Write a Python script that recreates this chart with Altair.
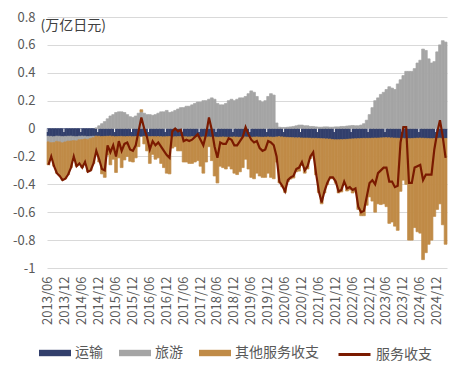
import altair as alt
import pandas as pd

# ---- categories ----
months = []
_y, _m = 2013, 6
for _ in range(142):
    months.append(f"{_y}/{_m:02d}")
    _m += 1
    if _m > 12:
        _m = 1
        _y += 1

label_months = ["2013/06", "2013/12", "2014/06", "2014/12", "2015/06", "2015/12",
                "2016/06", "2016/12", "2017/06", "2017/12", "2018/06", "2018/12",
                "2019/06", "2019/12", "2020/06", "2020/12", "2021/06", "2021/12",
                "2022/06", "2022/12", "2023/06", "2023/12", "2024/06", "2024/12"]

series_names = ["运输", "旅游", "其他服务收支"]
series_colors = ["#323F6C", "#A5A5A5", "#C08B47"]
line_name = "服务收支"

# ---- series values (万亿日元) ----
transport = [-0.055,-0.056,-0.058,-0.054,-0.055,-0.057,-0.056,-0.055,-0.054,-0.056,-0.058,-0.055,
             -0.054,-0.055,-0.057,-0.056,-0.055,-0.054,-0.055,-0.057,-0.056,-0.055,-0.054,-0.056,
             -0.058,-0.057,-0.056,-0.058,-0.057,-0.056,-0.058,-0.057,-0.056,-0.055,-0.056,-0.057,
             -0.058,-0.057,-0.058,-0.057,-0.058,-0.059,-0.058,-0.057,-0.058,-0.059,-0.058,-0.057,
             -0.058,-0.059,-0.060,-0.058,-0.059,-0.060,-0.061,-0.060,-0.059,-0.060,-0.061,-0.060,
             -0.062,-0.061,-0.060,-0.061,-0.062,-0.061,-0.060,-0.061,-0.062,-0.061,-0.060,-0.061,
             -0.062,-0.061,-0.060,-0.061,-0.062,-0.061,-0.060,-0.061,-0.062,-0.060,-0.058,-0.060,
             -0.062,-0.063,-0.064,-0.065,-0.066,-0.066,-0.067,-0.068,-0.068,-0.069,-0.070,-0.070,
             -0.071,-0.072,-0.073,-0.074,-0.075,-0.078,-0.080,-0.080,-0.079,-0.078,-0.077,-0.075,
             -0.074,-0.073,-0.072,-0.071,-0.070,-0.070,-0.070,-0.069,-0.068,-0.068,-0.067,-0.066,
             -0.065,-0.066,-0.067,-0.068,-0.069,-0.070,-0.070,-0.071,-0.072,-0.071,-0.070,-0.069,
             -0.068,-0.069,-0.070,-0.071,-0.072,-0.071,-0.070,-0.069,-0.070,-0.071]

travel = [-0.040,-0.045,-0.042,-0.038,-0.040,-0.045,-0.040,-0.035,-0.035,-0.030,-0.030,-0.025,
          -0.025,-0.020,-0.020,-0.015,-0.010,0.005,0.020,0.035,0.050,0.070,0.090,0.100,
          0.115,0.120,0.120,0.115,0.100,0.085,0.080,0.090,0.110,0.120,0.110,0.100,
          0.100,0.095,0.100,0.110,0.120,0.120,0.130,0.115,0.120,0.130,0.140,0.150,
          0.150,0.160,0.160,0.170,0.180,0.190,0.190,0.200,0.200,0.210,0.220,0.210,
          0.180,0.170,0.170,0.180,0.200,0.210,0.200,0.210,0.220,0.220,0.230,0.250,
          0.270,0.260,0.230,0.200,0.190,0.200,0.230,0.250,0.240,0.040,0.010,0.008,
          0.008,0.010,0.012,0.015,0.020,0.025,0.025,0.020,0.020,0.015,0.015,0.012,
          0.010,0.010,0.012,0.012,0.010,0.010,0.012,0.012,0.015,0.015,0.018,0.020,
          0.022,0.020,0.020,0.025,0.035,0.060,0.100,0.150,0.200,0.220,0.245,0.260,
          0.280,0.300,0.290,0.280,0.320,0.350,0.380,0.410,0.410,0.410,0.430,0.470,
          0.490,0.570,0.560,0.500,0.470,0.480,0.550,0.600,0.630,0.620]

other = [-0.165,-0.099,-0.170,-0.228,-0.245,-0.268,-0.264,-0.240,-0.191,-0.114,-0.182,-0.170,
         -0.201,-0.165,-0.233,-0.229,-0.185,-0.111,-0.185,-0.268,-0.294,-0.135,-0.206,-0.164,
         -0.257,-0.153,-0.224,-0.167,-0.143,-0.179,-0.182,-0.153,-0.074,0.015,-0.054,-0.103,
         -0.192,-0.128,-0.162,-0.153,-0.192,-0.221,-0.262,-0.268,-0.082,-0.071,-0.102,-0.103,
         -0.182,-0.181,-0.190,-0.192,-0.181,-0.170,-0.209,-0.260,-0.181,-0.070,-0.169,-0.280,
         -0.328,-0.209,-0.220,-0.229,-0.208,-0.229,-0.260,-0.269,-0.248,-0.219,-0.160,-0.229,
         -0.288,-0.299,-0.260,-0.279,-0.288,-0.289,-0.260,-0.289,-0.298,-0.180,-0.332,-0.358,
         -0.396,-0.317,-0.298,-0.290,-0.244,-0.239,-0.198,-0.252,-0.222,-0.146,-0.115,-0.262,
         -0.389,-0.468,-0.389,-0.328,-0.285,-0.282,-0.312,-0.382,-0.376,-0.317,-0.371,-0.365,
         -0.388,-0.377,-0.508,-0.554,-0.555,-0.480,-0.420,-0.451,-0.532,-0.472,-0.478,-0.474,
         -0.495,-0.614,-0.603,-0.632,-0.661,-0.380,-0.300,-0.329,-0.728,-0.729,-0.640,-0.671,
         -0.682,-0.871,-0.820,-0.759,-0.728,-0.559,-0.510,-0.471,-0.620,-0.759]

services = [-0.26,-0.20,-0.27,-0.32,-0.34,-0.37,-0.36,-0.33,-0.28,-0.20,-0.27,-0.25,
            -0.28,-0.24,-0.31,-0.30,-0.25,-0.16,-0.22,-0.29,-0.30,-0.12,-0.17,-0.12,
            -0.20,-0.09,-0.16,-0.11,-0.10,-0.15,-0.16,-0.12,-0.02,0.08,0.00,-0.06,
            -0.15,-0.09,-0.12,-0.10,-0.13,-0.16,-0.19,-0.21,-0.02,0.00,-0.02,-0.01,
            -0.09,-0.08,-0.09,-0.08,-0.06,-0.04,-0.08,-0.12,-0.04,0.08,-0.01,-0.13,
            -0.21,-0.10,-0.11,-0.11,-0.07,-0.08,-0.12,-0.12,-0.09,-0.06,0.01,-0.04,
            -0.08,-0.10,-0.09,-0.14,-0.16,-0.15,-0.09,-0.10,-0.12,-0.20,-0.38,-0.41,
            -0.45,-0.37,-0.35,-0.34,-0.29,-0.28,-0.24,-0.30,-0.27,-0.20,-0.17,-0.32,
            -0.45,-0.53,-0.45,-0.39,-0.35,-0.35,-0.38,-0.45,-0.44,-0.38,-0.43,-0.42,
            -0.44,-0.43,-0.56,-0.60,-0.59,-0.49,-0.39,-0.37,-0.40,-0.32,-0.30,-0.28,
            -0.28,-0.38,-0.38,-0.42,-0.41,-0.10,0.01,0.01,-0.39,-0.39,-0.28,-0.27,
            -0.26,-0.37,-0.33,-0.33,-0.33,-0.15,-0.03,0.06,-0.06,-0.21]

y_ticks = [-1.0, -0.8, -0.6, -0.4, -0.2, 0.0, 0.2, 0.4, 0.6, 0.8]

# ---- tables ----
rows = []
for i, mth in enumerate(months):
    rows.append({"month": mth, "series": "运输", "value": transport[i], "ord": 0})
    rows.append({"month": mth, "series": "旅游", "value": travel[i], "ord": 1})
    rows.append({"month": mth, "series": "其他服务收支", "value": other[i], "ord": 2})
bars_df = pd.DataFrame(rows)
line_df = pd.DataFrame({"month": months, "series": line_name, "value": services})
ticks_df = pd.DataFrame({"month": label_months})

FONT = "Noto Sans CJK SC"
TXT = "#595959"

x_axis = alt.Axis(values=label_months, labelAngle=270, labelAlign="right",
                  labelBaseline="middle", labelPadding=8, ticks=False, domain=False,
                  grid=False, title=None, labelFontSize=13, labelColor=TXT,
                  labelFont=FONT, labelOverlap=False)
x_scale = alt.Scale(domain=months, paddingInner=0, paddingOuter=0)

y_axis = alt.Axis(values=y_ticks,
                  labelExpr="datum.value == 0 ? '0' : '' + round(datum.value * 10) / 10",
                  grid=True, gridColor="#D9D9D9", gridWidth=1, domain=False, ticks=False,
                  labelPadding=12, labelFontSize=13, labelColor=TXT, labelFont=FONT,
                  labelOverlap=False, labelSeparation=0,
                  title="(万亿日元)", titleAngle=0, titleAlign="left",
                  titleBaseline="middle", titleX=-7, titleY=8, titleFontSize=14,
                  titleFontWeight="normal", titleColor="#404040", titleFont=FONT)
y_scale = alt.Scale(domain=[-1, 0.8], nice=False)

bars = alt.Chart(bars_df).mark_bar(strokeWidth=0.7).encode(
    x=alt.X("month:O", scale=x_scale, axis=x_axis),
    y=alt.Y("value:Q", stack="zero", scale=y_scale, axis=y_axis),
    color=alt.Color(
        "series:N",
        scale=alt.Scale(domain=series_names, range=series_colors),
        legend=alt.Legend(orient="none", direction="horizontal", legendX=-8, legendY=320,
                          title=None, symbolType="M-1,-0.2H1V0.2H-1Z", symbolSize=1024,
                          symbolStrokeWidth=0, labelFontSize=14, labelFont=FONT,
                          labelColor=TXT, labelOffset=4, columnPadding=16),
    ),
    stroke=alt.Stroke("series:N",
                      scale=alt.Scale(domain=series_names, range=series_colors),
                      legend=None),
    order=alt.Order("ord:Q"),
)

ticks = alt.Chart(ticks_df).mark_rule(color="white", strokeWidth=1).encode(
    x=alt.X("month:O", bandPosition=0, scale=x_scale, axis=x_axis),
    y=alt.Y(datum=0, scale=y_scale, axis=y_axis),
    y2=alt.datum(-0.025),
)

line = alt.Chart(line_df).mark_line(strokeWidth=2.2).encode(
    x=alt.X("month:O", scale=x_scale, axis=x_axis),
    y=alt.Y("value:Q", scale=y_scale, axis=y_axis),
    stroke=alt.Stroke(
        "series:N",
        scale=alt.Scale(domain=[line_name], range=["#7A1A00"]),
        legend=alt.Legend(orient="none", legendX=290, legendY=320, title=None,
                          symbolType="stroke", symbolSize=1024, symbolStrokeWidth=3,
                          labelFontSize=14, labelFont=FONT, labelColor=TXT, labelOffset=4),
    ),
)

chart = alt.layer(bars, ticks, line).resolve_scale(stroke="independent").properties(
    width=400, height=251,
    padding={"left": 39, "top": 9, "right": 11, "bottom": 95},
    autosize=alt.AutoSizeParams(type="none"),
).configure(
    font=FONT,
    view=alt.ViewConfig(stroke=None),
    axis=alt.AxisConfig(labelOverlap=False),
)

chart.save("out.html", embed_options={"renderer": "svg", "actions": False})
